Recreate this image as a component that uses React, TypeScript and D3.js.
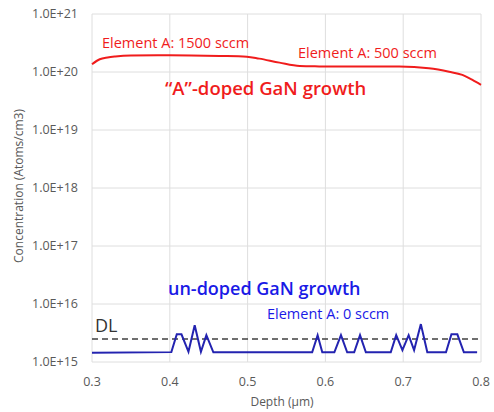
import React from "react";
import * as d3 from "d3";

const xTicks = [0.3, 0.4, 0.5, 0.6, 0.7, 0.8];
const yTickExps = [15, 16, 17, 18, 19, 20, 21];
const yTickLabels = ["1.0E+15", "1.0E+16", "1.0E+17", "1.0E+18", "1.0E+19", "1.0E+20", "1.0E+21"];

const redDepth = [0.3, 0.31, 0.32, 0.33, 0.35, 0.4, 0.464, 0.499, 0.515, 0.541, 0.567, 0.592, 0.618, 0.695, 0.733, 0.759, 0.776, 0.789, 0.8];
const redConc = [1.36e20, 1.66e20, 1.78e20, 1.85e20, 1.92e20, 1.94e20, 1.89e20, 1.84e20, 1.7e20, 1.45e20, 1.27e20, 1.25e20, 1.24e20, 1.24e20, 1.16e20, 1.01e20, 8.9e19, 7.3e19, 6.0e19];

const blueDepth = [0.3, 0.402, 0.409, 0.415, 0.424, 0.432, 0.44, 0.447, 0.456, 0.583, 0.59, 0.596, 0.6115, 0.62, 0.628, 0.637, 0.6445, 0.652, 0.684, 0.691, 0.699, 0.707, 0.714, 0.7227, 0.731, 0.755, 0.762, 0.7696, 0.778, 0.795];
const blueConc = [1.44e15, 1.48e15, 3.0e15, 3.0e15, 1.5e15, 4.3e15, 1.5e15, 2.9e15, 1.47e15, 1.47e15, 2.9e15, 1.47e15, 1.47e15, 2.9e15, 1.47e15, 1.47e15, 2.9e15, 1.47e15, 1.47e15, 2.9e15, 1.6e15, 2.9e15, 1.6e15, 4.5e15, 1.47e15, 1.47e15, 3.0e15, 3.0e15, 1.47e15, 1.47e15];

const detectionLimit = 2.5e15;

export default function App() {
  const W = 494, H = 412;
  const left = 92, right = 481, top = 14, bottom = 362;
  const x = d3.scaleLinear().domain([0.3, 0.8]).range([left, right]);
  const y = d3.scaleLog().domain([1e15, 1e21]).range([bottom, top]);

  const redLine = d3
    .line<number>()
    .x((_, i) => x(redDepth[i]))
    .y((_, i) => y(redConc[i]))
    .curve(d3.curveMonotoneX)(redDepth) as string;

  const blueLine = d3
    .line<number>()
    .x((_, i) => x(blueDepth[i]))
    .y((_, i) => y(blueConc[i]))(blueDepth) as string;

  const font = "'Open Sans', 'Noto Sans', sans-serif";
  const gray = "#595959";
  const red = "#f01c1c";
  const blue = "#1a1ae6";

  return (
    <svg
      width={W}
      height={H}
      style={{ position: "absolute", left: 0, top: 0, background: "#fff" }}
      fontFamily={font}
    >
      <rect x={0} y={0} width={W} height={H} fill="#fff" />
      {/* gridlines */}
      {xTicks.map((t) => (
        <line key={"gx" + t} x1={x(t)} x2={x(t)} y1={top} y2={bottom} stroke="#dedede" strokeWidth={1} />
      ))}
      {yTickExps.map((e) => (
        <line key={"gy" + e} x1={left} x2={right} y1={y(Math.pow(10, e))} y2={y(Math.pow(10, e))} stroke="#dedede" strokeWidth={1} />
      ))}
      {/* tick labels */}
      {yTickExps.map((e, i) => (
        <text key={"ty" + e} x={78} y={y(Math.pow(10, e))} dy="0.35em" textAnchor="end" fontSize={12.5} fill={gray}>
          {yTickLabels[i]}
        </text>
      ))}
      {xTicks.map((t) => (
        <text key={"tx" + t} x={x(t)} y={386} textAnchor="middle" fontSize={12.5} fill={gray}>
          {d3.format(".1f")(t)}
        </text>
      ))}
      <text x={282} y={406} textAnchor="middle" fontSize={12} fill={gray}>
        Depth (µm)
      </text>
      <text
        transform={`translate(23, ${(top + bottom) / 2 - 2}) rotate(-90)`}
        textAnchor="middle"
        fontSize={12}
        fill={gray}
      >
        Concentration (Atoms/cm3)
      </text>

      {/* DL line */}
      <line x1={left} x2={right} y1={y(detectionLimit)} y2={y(detectionLimit)} stroke="#404040" strokeWidth={1.5} strokeDasharray="6,4" />
      <text x={95} y={332} fontSize={18} fill="#333">DL</text>

      {/* data */}
      <path d={redLine} fill="none" stroke={red} strokeWidth={2} />
      <path d={blueLine} fill="none" stroke="#2323b0" strokeWidth={2} strokeLinejoin="miter" />

      {/* annotations */}
      <text x={102} y={48} fontSize={14.5} fill={red}>Element A: 1500 sccm</text>
      <text x={298} y={58} fontSize={14.5} fill={red}>Element A: 500 sccm</text>
      <text x={165} y={95} fontSize={18.5} fontWeight={600} fill={red}>“A”-doped GaN growth</text>
      <text x={168} y={295} fontSize={18} fontWeight={600} fill={blue}>un-doped GaN growth</text>
      <text x={267} y={319} fontSize={14.5} fill={blue}>Element A: 0 sccm</text>
    </svg>
  );
}
